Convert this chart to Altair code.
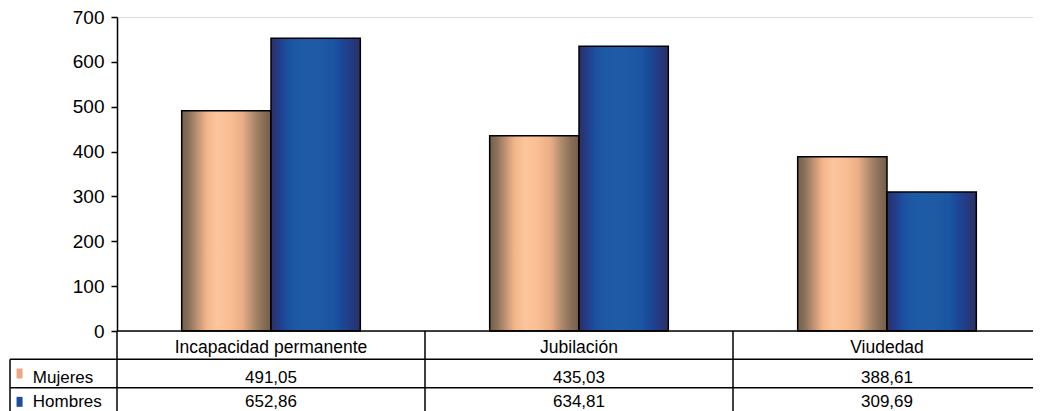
import altair as alt
import pandas as pd

categories = ["Incapacidad permanente", "Jubilación", "Viudedad"]
series = ["Mujeres", "Hombres"]
mujeres = [491.05, 435.03, 388.61]
hombres = [652.86, 634.81, 309.69]
y_ticks = [0, 100, 200, 300, 400, 500, 600, 700]

FONT = "Liberation Sans"
PLOT_W = 916          # visible plot width (page is cut at the right edge)
RANGE_W = 924         # full width of the category scale
PLOT_H = 314
TABLE_H = 85

# ---- bar data
rows = []
for c, m, h in zip(categories, mujeres, hombres):
    rows.append({"categoria": c, "serie": "Mujeres", "valor": m})
    rows.append({"categoria": c, "serie": "Hombres", "valor": h})
df = pd.DataFrame(rows)


def stops(pairs):
    return [alt.GradientStop(offset=o, color=c) for o, c in pairs]


grad_m = alt.LinearGradient(
    gradient="linear", x1=0, x2=1, y1=0, y2=0,
    stops=stops([(0, "#735e4a"), (0.08, "#8a715a"), (0.18, "#c09274"), (0.28, "#f4b68a"),
                 (0.4, "#fcc59d"), (0.55, "#f9bd92"), (0.68, "#eaae86"), (0.8, "#b08b6d"),
                 (0.9, "#8c7159"), (1, "#735e4a")]))
grad_h = alt.LinearGradient(
    gradient="linear", x1=0, x2=1, y1=0, y2=0,
    stops=stops([(0, "#2b3063"), (0.08, "#243a86"), (0.18, "#1c4fa0"), (0.3, "#1d5aa6"),
                 (0.5, "#1f5ba5"), (0.7, "#1b55a3"), (0.8, "#1b4796"), (0.9, "#243a82"),
                 (1, "#2b3063")]))

xenc = alt.X("categoria:N", sort=categories,
             scale=alt.Scale(domain=categories, range=[0, RANGE_W],
                             paddingInner=0.42, paddingOuter=0.21), axis=None)
yscale = alt.Scale(domain=[0, 700], nice=False)
yenc = alt.Y("valor:Q", scale=yscale,
             axis=alt.Axis(values=y_ticks, title=None, grid=False, domainColor="black",
                           domainWidth=1.5, tickColor="black", tickSize=6, tickWidth=1.5,
                           labelFontSize=19, labelColor="black", labelFont=FONT,
                           labelPadding=7))
yenc_noaxis = alt.Y("valor:Q", scale=yscale, axis=None)
xoff = alt.XOffset("serie:N", sort=series, scale=alt.Scale(domain=series))

bars_m = alt.Chart(df).transform_filter(alt.datum.serie == "Mujeres").mark_bar(
    color=grad_m, stroke="black", strokeWidth=1.5).encode(x=xenc, y=yenc, xOffset=xoff)
bars_h = alt.Chart(df).transform_filter(alt.datum.serie == "Hombres").mark_bar(
    color=grad_h, stroke="black", strokeWidth=1.5).encode(x=xenc, y=yenc_noaxis, xOffset=xoff)

# ---- data table below the plot
L = 107 / 308  # width of the label column, in category units


def fmt(v):
    return f"{v:.2f}".replace(".", ",")


cells = []
for i, c in enumerate(categories):
    cells.append({"xm": i + 0.5, "ym": 0.5, "txt": c})
    cells.append({"xm": i + 0.5, "ym": 1.5, "txt": fmt(mujeres[i])})
    cells.append({"xm": i + 0.5, "ym": 2.5, "txt": fmt(hombres[i])})
cdf = pd.DataFrame(cells)

n = len(categories)
hrules = pd.DataFrame({"y": [0, 1, 2, 3], "xa": [0, -L, -L, -L], "xb": [n] * 4})
vrules = pd.DataFrame({"x": [-L] + list(range(n + 1)), "ya": [1] + [0] * (n + 1),
                       "yb": [3] * (n + 2)})

labels = pd.DataFrame({"txt": series, "ym": [1.5, 2.5],
                       "xs": [-L + 0.031] * 2, "xt": [-L + 0.074] * 2,
                       "sw": ["#eba882", "#1f4d9e"]})

tx = alt.Scale(domain=[0, n], range=[0, RANGE_W], nice=False, zero=False)
tys = alt.Scale(domain=[0, 3], range=[PLOT_H, PLOT_H + TABLE_H], nice=False, zero=False)

hr = alt.Chart(hrules).mark_rule(color="black", strokeWidth=1.5).encode(
    x=alt.X("xa:Q", scale=tx, axis=None), x2="xb:Q", y=alt.Y("y:Q", scale=tys, axis=None))
vr = alt.Chart(vrules).mark_rule(color="black", strokeWidth=1.5).encode(
    x=alt.X("x:Q", scale=tx, axis=None), y=alt.Y("ya:Q", scale=tys, axis=None), y2="yb:Q")


def cell_text(sub_df, size, dy):
    return alt.Chart(sub_df).mark_text(font=FONT, color="black", baseline="alphabetic",
                                       fontSize=size, dy=dy).encode(
        x=alt.X("xm:Q", scale=tx, axis=None), y=alt.Y("ym:Q", scale=tys, axis=None),
        text="txt:N")


head_text = cell_text(cdf[cdf.ym == 0.5], 17.5, 7.5)
muj_text = cell_text(cdf[cdf.ym == 1.5], 17, 9.5)
hom_text = cell_text(cdf[cdf.ym == 2.5], 17, 5.5)

swatch = alt.Chart(labels).mark_point(
    shape="M-0.6,-1H0.6V1H-0.6Z", size=100, filled=True, opacity=1, strokeWidth=0).encode(
    x=alt.X("xs:Q", scale=tx, axis=None), y=alt.Y("ym:Q", scale=tys, axis=None),
    color=alt.Color("sw:N", scale=None, legend=None))
ltext_m = alt.Chart(labels[labels.ym == 1.5]).mark_text(
    fontSize=17, font=FONT, color="black", align="left", baseline="alphabetic", dy=9).encode(
    x=alt.X("xt:Q", scale=tx, axis=None), y=alt.Y("ym:Q", scale=tys, axis=None), text="txt:N")
ltext_h = alt.Chart(labels[labels.ym == 2.5]).mark_text(
    fontSize=17, font=FONT, color="black", align="left", baseline="alphabetic", dy=5.5).encode(
    x=alt.X("xt:Q", scale=tx, axis=None), y=alt.Y("ym:Q", scale=tys, axis=None), text="txt:N")

chart = alt.layer(bars_m, bars_h, hr, vr, head_text, muj_text, hom_text, swatch,
                  ltext_m, ltext_h).resolve_scale(
    x="independent", y="independent"
).properties(
    width=PLOT_W, height=PLOT_H,
    autosize=alt.AutoSizeParams(type="none"),
    padding={"left": 109, "top": 9, "right": 0, "bottom": TABLE_H},
).configure_view(stroke=None).configure(background="white")

chart.save("out.html", embed_options={"renderer": "svg", "actions": False})
